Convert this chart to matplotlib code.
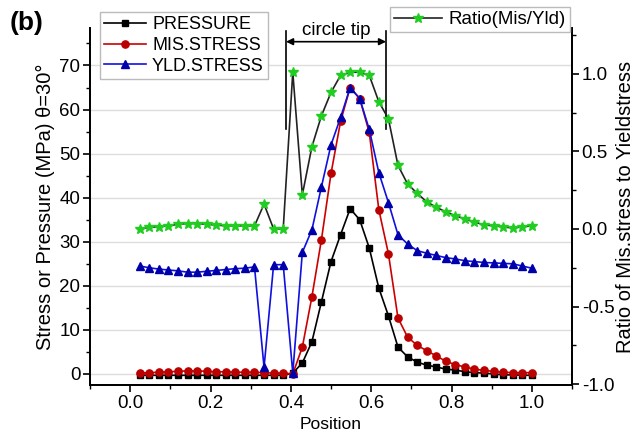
import matplotlib
matplotlib.use('Agg')
import matplotlib.pyplot as plt
from matplotlib.ticker import MultipleLocator

plt.rcParams['font.family'] = ['Liberation Sans', 'DejaVu Sans']

# node positions along the contact line
position = [0.0238, 0.0476, 0.0714, 0.0952, 0.119, 0.1429, 0.1667, 0.1905, 0.2143, 0.2381,
            0.2619, 0.2857, 0.3095, 0.3333, 0.3571, 0.381, 0.4048, 0.4286, 0.4524, 0.4762,
            0.5, 0.5238, 0.5476, 0.5714, 0.5952, 0.619, 0.6429, 0.6667, 0.6905, 0.7143,
            0.7381, 0.7619, 0.7857, 0.8095, 0.8333, 0.8571, 0.881, 0.9048, 0.9286, 0.9524,
            0.9762, 1.0]

pressure = [-0.3, -0.3, -0.3, -0.3, -0.3, -0.3, -0.3, -0.3, -0.3, -0.3, -0.3, -0.3, -0.3,
            -0.3, -0.3, -0.3, 0.2, 2.5, 7.3, 16.4, 25.5, 31.6, 37.5, 35.0, 28.6, 19.5, 13.2,
            6.1, 3.9, 2.7, 2.0, 1.6, 1.1, 0.9, 0.5, 0.3, 0.2, 0.0, -0.2, -0.2, -0.3, -0.3]

mis_stress = [0.2, 0.3, 0.4, 0.5, 0.6, 0.7, 0.7, 0.6, 0.5, 0.5, 0.4, 0.4, 0.4, 0.3, 0.2,
              0.2, 0.0, 6.1, 17.5, 30.5, 45.5, 57.3, 65.0, 62.5, 54.8, 37.3, 27.3, 12.7, 8.4,
              6.5, 5.3, 4.1, 2.9, 2.1, 1.6, 1.1, 0.8, 0.6, 0.4, 0.3, 0.3, 0.3]

yld_stress = [24.5, 24.1, 23.8, 23.6, 23.4, 23.1, 23.1, 23.3, 23.5, 23.7, 23.9, 24.0, 24.3,
              1.5, 24.8, 24.8, 0.2, 27.6, 32.7, 42.5, 52.0, 58.2, 65.0, 62.5, 55.5, 45.7,
              38.9, 31.6, 29.5, 28.0, 27.4, 26.9, 26.4, 26.1, 25.7, 25.5, 25.3, 25.2, 25.1,
              25.0, 24.5, 24.0]

ratio = [0.00, 0.01, 0.015, 0.02, 0.03, 0.035, 0.035, 0.03, 0.025, 0.02, 0.02, 0.02, 0.02,
         0.16, 0.0, 0.0, 1.01, 0.22, 0.53, 0.73, 0.88, 0.99, 1.01, 1.01, 0.99, 0.82, 0.71,
         0.41, 0.29, 0.23, 0.175, 0.14, 0.11, 0.085, 0.065, 0.045, 0.026, 0.02, 0.013,
         0.006, 0.013, 0.02]

# extent of the circular tip
tip_start, tip_end = 0.388, 0.637

fig = plt.figure(figsize=(6.37, 4.38), dpi=100)
ax = fig.add_axes([0.1413, 0.121, 0.7567, 0.815])
ax2 = ax.twinx()

ax.plot(position, pressure, color='black', marker='s', markersize=4.5, lw=1.2, label='PRESSURE')
ax.plot(position, mis_stress, color='#cc0000', marker='o', markersize=5.2, lw=1.2,
        markerfacecolor='#bb0000', markeredgecolor='#bb0000', label='MIS.STRESS')
ax.plot(position, yld_stress, color='#1010e0', marker='^', markersize=5.8, lw=1.2,
        markerfacecolor='#0000aa', markeredgecolor='#0000aa', label='YLD.STRESS')
ax2.plot(position, ratio, color='#222222', marker='*', markersize=7, lw=1.2,
         markerfacecolor='#22cc22', markeredgecolor='#22cc22', label='Ratio(Mis/Yld)')

ax.set_xlim(-0.1, 1.1)
ax.set_ylim(-2.5, 78.5)
ax2.set_ylim(-1.006, 1.295)

ax.xaxis.set_major_locator(MultipleLocator(0.2))
ax.xaxis.set_minor_locator(MultipleLocator(0.1))
ax.yaxis.set_major_locator(MultipleLocator(10))
ax.yaxis.set_minor_locator(MultipleLocator(5))
ax2.yaxis.set_major_locator(MultipleLocator(0.5))
ax2.yaxis.set_minor_locator(MultipleLocator(0.25))
ax.xaxis.set_major_formatter(plt.FormatStrFormatter('%.1f'))
ax2.yaxis.set_major_formatter(plt.FormatStrFormatter('%.1f'))

ax.grid(axis='y', color='#dddddd', lw=1.0)
ax.set_axisbelow(True)

for a in (ax, ax2):
    a.spines['top'].set_visible(False)
    for s in a.spines.values():
        s.set_linewidth(1.3)
    a.tick_params(which='major', length=5, width=1.2, labelsize=13.5, direction='out', pad=2)
    a.tick_params(which='minor', length=3, width=1.0, direction='out')

ax.set_xlabel('Position', fontsize=12.5, labelpad=4)
ax.set_ylabel('Stress or Pressure (MPa) θ=30°', fontsize=14.5, labelpad=3)
ax2.set_ylabel('Ratio of Mis.stress to Yieldstress', fontsize=14.5, labelpad=1)

# circle tip marker
ax.plot([tip_start, tip_start], [55.5, 77.8], color='black', lw=1.2, clip_on=False)
ax.plot([tip_end, tip_end], [55.5, 77.8], color='black', lw=1.2, clip_on=False)
ax.annotate('', xy=(tip_start, 75.4), xytext=(tip_end, 75.4),
            arrowprops=dict(arrowstyle='<|-|>', color='black', lw=1.2,
                            shrinkA=0, shrinkB=0, mutation_scale=10),
            annotation_clip=False)
ax.text((tip_start + tip_end) / 2, 75.9, 'circle tip', ha='center', va='bottom',
        fontsize=13.5, clip_on=False)

leg1 = ax.legend(loc='upper left', bbox_to_anchor=(0.02, 1.045), fontsize=13,
                 handlelength=2.3, labelspacing=0.2, borderpad=0.25, handletextpad=0.35,
                 borderaxespad=0, fancybox=False, edgecolor='#bbbbbb', framealpha=1)
leg2 = ax2.legend(loc='upper left', bbox_to_anchor=(0.622, 1.058), fontsize=13.5,
                  handlelength=2.6, borderpad=0.2, handletextpad=0.35,
                  borderaxespad=0, fancybox=False, edgecolor='#bbbbbb', framealpha=1)

fig.text(0.015, 0.975, '(b)', fontsize=19, fontweight='bold', va='top', ha='left')

fig.savefig('out.png', dpi=100)
